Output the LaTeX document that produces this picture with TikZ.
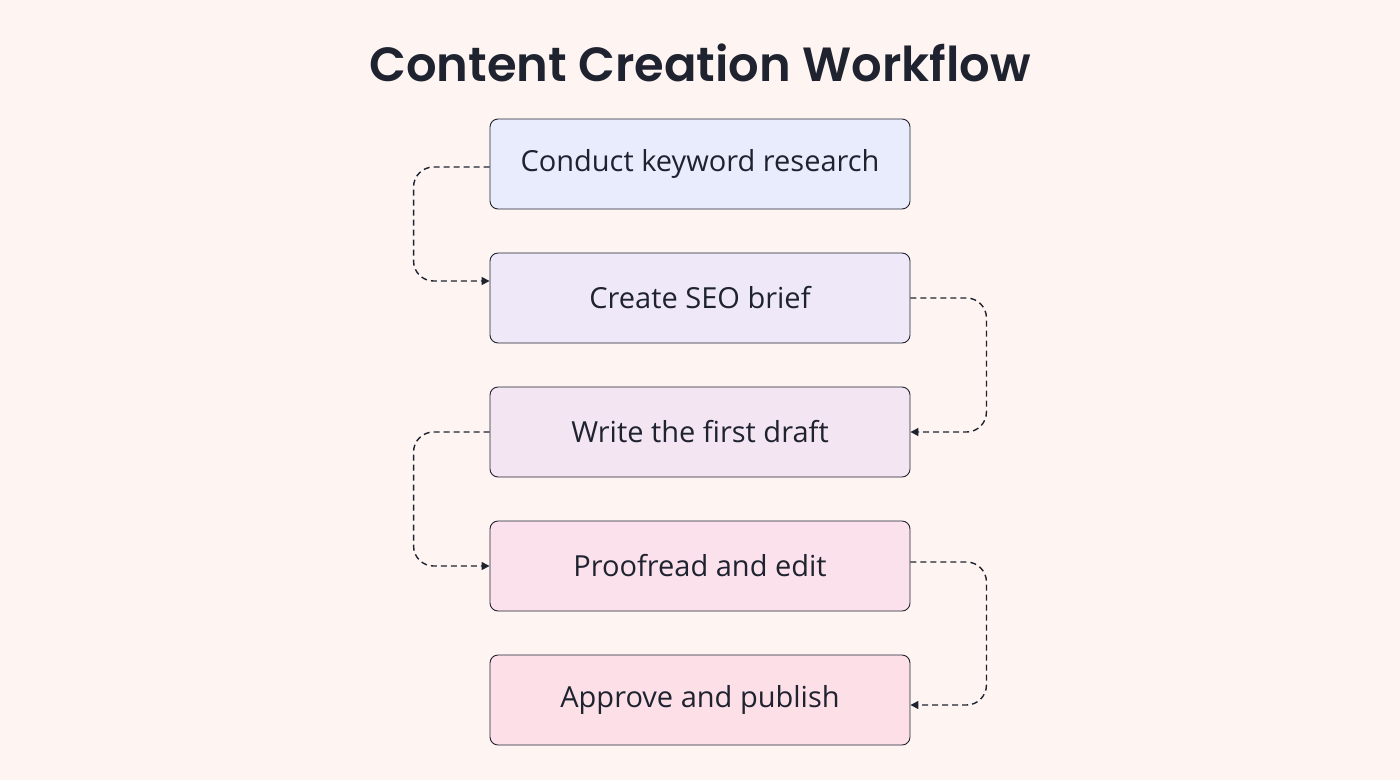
\documentclass[tikz,border=0pt]{standalone}
\usepackage{fontspec}
\setmainfont{Open Sans}
\newfontfamily\titlefont{Poppins}[UprightFont=* SemiBold]
\usetikzlibrary{arrows.meta}
\definecolor{bg}{HTML}{FEF5F3}
\definecolor{ink}{HTML}{1F2330}
\definecolor{cA}{HTML}{E8ECFD}
\definecolor{cB}{HTML}{EEE8F8}
\definecolor{cC}{HTML}{F4E5F2}
\definecolor{cD}{HTML}{FBE1EC}
\definecolor{cE}{HTML}{FDDFE8}
\tikzset{
  stepbox/.style={draw=ink, line width=0.9pt, rounded corners=8pt, minimum width=420pt, minimum height=90pt, inner sep=0pt, font=\fontsize{29pt}{34pt}\selectfont, text=ink},
  conn/.style={draw=ink, line width=1.4pt, dash pattern=on 6pt off 4pt, rounded corners=20pt, -{Triangle[length=8pt,width=8pt]}}
}
\begin{document}
\begin{tikzpicture}[x=1pt,y=-1pt]
\fill[bg] (0,0) rectangle (1400,780);
\useasboundingbox (0,0) rectangle (1400,780);
\node[font=\titlefont\fontsize{48pt}{54pt}\selectfont, text=ink] (t) at (700,63) {Content Creation Workflow};
\node[stepbox, fill=cA] (a) at (700,164) {Conduct keyword research};
\node[stepbox, fill=cB] (b) at (700,298) {Create SEO brief};
\node[stepbox, fill=cC] (c) at (700,432) {Write the first draft};
\node[stepbox, fill=cD] (d) at (700,566) {Proofread and edit};
\node[stepbox, fill=cE] (e) at (700,700) {Approve and publish};
\draw[conn] ([yshift=-3pt]a.west) -- ++(-76,0) |- ([yshift=17pt]b.west);
\draw[conn] (b.east) -- ++(76,0) |- (c.east);
\draw[conn] (c.west) -- ++(-76,0) |- (d.west);
\draw[conn] ([yshift=4pt]d.east) -- ++(76,0) |- ([yshift=-5pt]e.east);
\end{tikzpicture}
\end{document}
